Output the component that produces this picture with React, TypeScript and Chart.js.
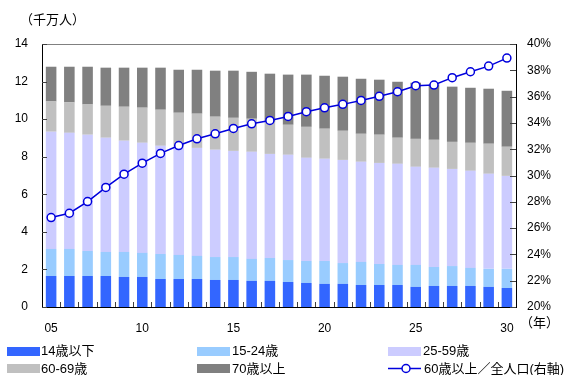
import React, { useEffect, useRef } from 'react';
import { Chart, registerables } from 'chart.js';

Chart.register(...registerables);

// Population by age band, tens of millions (千万人)
const years = ['05', '06', '07', '08', '09', '10', '11', '12', '13', '14', '15', '16', '17',
  '18', '19', '20', '21', '22', '23', '24', '25', '26', '27', '28', '29', '30'];
const age0to14 = [1.65, 1.65, 1.65, 1.65, 1.60, 1.60, 1.49, 1.49, 1.49, 1.44, 1.44, 1.39, 1.39,
  1.33, 1.28, 1.23, 1.23, 1.17, 1.17, 1.17, 1.07, 1.12, 1.12, 1.12, 1.07, 1.01];
const age15to24 = [1.44, 1.44, 1.33, 1.28, 1.33, 1.28, 1.33, 1.28, 1.23, 1.22, 1.22, 1.17, 1.22,
  1.17, 1.17, 1.22, 1.11, 1.23, 1.12, 1.07, 1.17, 1.01, 1.06, 0.96, 0.96, 1.02];
const age25to59 = [6.24, 6.18, 6.19, 6.08, 5.92, 5.86, 5.76, 5.76, 5.75, 5.71, 5.65, 5.70, 5.54,
  5.60, 5.49, 5.44, 5.49, 5.33, 5.38, 5.38, 5.22, 5.28, 5.17, 5.17, 5.06, 4.95];
const age60to69 = [1.61, 1.62, 1.61, 1.70, 1.81, 1.87, 1.92, 1.81, 1.82, 1.76, 1.76, 1.76, 1.71,
  1.60, 1.65, 1.60, 1.55, 1.49, 1.50, 1.39, 1.49, 1.49, 1.44, 1.49, 1.60, 1.55];
const age70plus = [1.85, 1.90, 2.01, 2.03, 2.08, 2.13, 2.24, 2.29, 2.34, 2.45, 2.51, 2.50, 2.56,
  2.67, 2.78, 2.82, 2.88, 2.93, 2.93, 2.98, 2.99, 2.95, 2.94, 2.93, 2.93, 2.98];
// Share of people aged 60+ in the total population, % (right axis)
const over60Share = [26.80, 27.13, 28.02, 29.09, 30.10, 30.94, 31.68, 32.28, 32.79, 33.17, 33.58,
  33.93, 34.19, 34.49, 34.85, 35.15, 35.41, 35.71, 36.02, 36.37, 36.83, 36.88, 37.44, 37.89,
  38.32, 38.93];
const xTickLabels = ['05', '10', '15', '20', '25', '30'];

const FONT = '"Liberation Sans", "Noto Sans CJK JP", sans-serif';
const C_0_14 = '#3366FF';
const C_15_24 = '#99CCFF';
const C_25_59 = '#CCCCFF';
const C_60_69 = '#C0C0C0';
const C_70 = '#808080';
const C_LINE = '#0000DD';

// Frame top line and the short inward tick marks on all three axes
const frameTicks = {
  id: 'frameTicks',
  afterDatasetsDraw(chart: any) {
    const { ctx, chartArea } = chart;
    const { left, right, top, bottom } = chartArea;
    const x = chart.scales.x;
    const y = chart.scales.y;
    const y1 = chart.scales.y1;
    ctx.save();
    ctx.lineWidth = 1;
    ctx.strokeStyle = '#808080';
    ctx.beginPath();
    ctx.moveTo(left, Math.round(top) + 0.5);
    ctx.lineTo(right, Math.round(top) + 0.5);
    ctx.stroke();

    ctx.strokeStyle = '#404040';
    ctx.beginPath();
    const n = x.getLabels().length;
    for (let i = 1; i < n; i++) {
      const px = Math.round((x.getPixelForValue(i - 1) + x.getPixelForValue(i)) / 2) + 0.5;
      ctx.moveTo(px, bottom);
      ctx.lineTo(px, bottom - 5);
    }
    y.ticks.forEach((t: any) => {
      const py = Math.round(y.getPixelForValue(t.value)) + 0.5;
      ctx.moveTo(left, py);
      ctx.lineTo(left + 5, py);
    });
    y1.ticks.forEach((t: any) => {
      const py = Math.round(y1.getPixelForValue(t.value)) + 0.5;
      ctx.moveTo(right, py);
      ctx.lineTo(right - 6, py);
    });
    ctx.stroke();
    ctx.restore();
  },
};

const swatch = (left: number, top: number, color: string) => (
  <div style={{ position: 'absolute', left, top, width: 33, height: 9, background: color }} />
);

const textStyle = { position: 'absolute' as const, fontSize: 13, lineHeight: '16px', whiteSpace: 'nowrap' as const, color: '#000' };

const label = (left: number, top: number, text: string, spacing = 0) => (
  <div style={{ ...textStyle, left, top, letterSpacing: spacing }}>{text}</div>
);

export default function App() {
  const canvasRef = useRef<HTMLCanvasElement>(null);

  useEffect(() => {
    const canvas = canvasRef.current;
    if (!canvas) return;
    const bar = (label: string, data: number[], color: string) => ({
      type: 'bar' as const,
      label,
      data,
      backgroundColor: color,
      borderWidth: 0,
      stack: 'pop',
      yAxisID: 'y',
      order: 1,
      barPercentage: 0.58,
      categoryPercentage: 1,
    });
    const chart = new Chart(canvas, {
      type: 'bar',
      data: {
        labels: years,
        datasets: [
          bar('14歳以下', age0to14, C_0_14),
          bar('15-24歳', age15to24, C_15_24),
          bar('25-59歳', age25to59, C_25_59),
          bar('60-69歳', age60to69, C_60_69),
          bar('70歳以上', age70plus, C_70),
          {
            type: 'line' as const,
            label: '60歳以上／全人口(右軸)',
            data: over60Share,
            yAxisID: 'y1',
            order: 0,
            borderColor: C_LINE,
            borderWidth: 1.5,
            pointRadius: 4,
            pointBorderWidth: 1.5,
            pointBackgroundColor: '#FFFFFF',
            pointBorderColor: C_LINE,
            tension: 0,
          } as any,
        ],
      },
      options: {
        responsive: false,
        animation: false,
        layout: { padding: { top: 44, left: 0, right: 0, bottom: 0 } },
        plugins: {
          legend: { display: false },
          tooltip: { enabled: false },
          title: { display: false },
        },
        scales: {
          x: {
            stacked: true,
            grid: { display: false, drawTicks: false },
            border: { display: true, color: '#000', width: 1 },
            ticks: {
              autoSkip: false,
              maxRotation: 0,
              padding: 14,
              color: '#000',
              font: { family: FONT, size: 12 },
              callback: (_v: any, i: number) => (xTickLabels.includes(years[i]) ? years[i] : ''),
            },
            afterFit: (s: any) => { s.height = 68; },
          },
          y: {
            position: 'left',
            stacked: true,
            min: 0,
            max: 14,
            grid: { display: false, drawTicks: false },
            border: { display: true, color: '#000', width: 1 },
            ticks: { stepSize: 2, padding: 14, color: '#000', font: { family: FONT, size: 12 } },
            afterFit: (s: any) => { s.width = 42; },
          },
          y1: {
            position: 'right',
            min: 20,
            max: 40,
            grid: { display: false, drawTicks: false },
            border: { display: true, color: '#000', width: 1 },
            ticks: {
              stepSize: 2,
              padding: 11,
              color: '#000',
              font: { family: FONT, size: 12 },
              callback: (v: any) => `${v}%`,
            },
            afterFit: (s: any) => { s.width = 53; },
          },
        },
      },
      plugins: [frameTicks],
    });
    return () => chart.destroy();
  }, []);

  return (
    <div style={{ position: 'absolute', left: 0, top: 0, width: 569, height: 375, fontFamily: FONT, background: '#fff', overflow: 'hidden' }}>
      <canvas ref={canvasRef} width={569} height={375} style={{ position: 'absolute', left: 0, top: 0 }} />
      {label(20, 12, '（千万人）')}
      {label(520, 315, '（年）')}

      {swatch(7, 347, C_0_14)}
      {label(41, 343, '14歳以下')}
      {swatch(197, 347, C_15_24)}
      {label(232, 343, '15-24歳')}
      {swatch(388, 347, C_25_59)}
      {label(423, 343, '25-59歳')}

      {swatch(7, 364, C_60_69)}
      {label(41, 361, '60-69歳')}
      {swatch(197, 364, C_70)}
      {label(232, 361, '70歳以上')}
      <svg style={{ position: 'absolute', left: 386, top: 362 }} width={36} height={13}>
        <line x1={2} y1={6.5} x2={35} y2={6.5} stroke={C_LINE} strokeWidth={1.5} />
        <circle cx={20} cy={6.5} r={4} fill="#fff" stroke={C_LINE} strokeWidth={1.5} />
      </svg>
      {label(424, 361, '60歳以上／全人口(右軸)')}
    </div>
  );
}
